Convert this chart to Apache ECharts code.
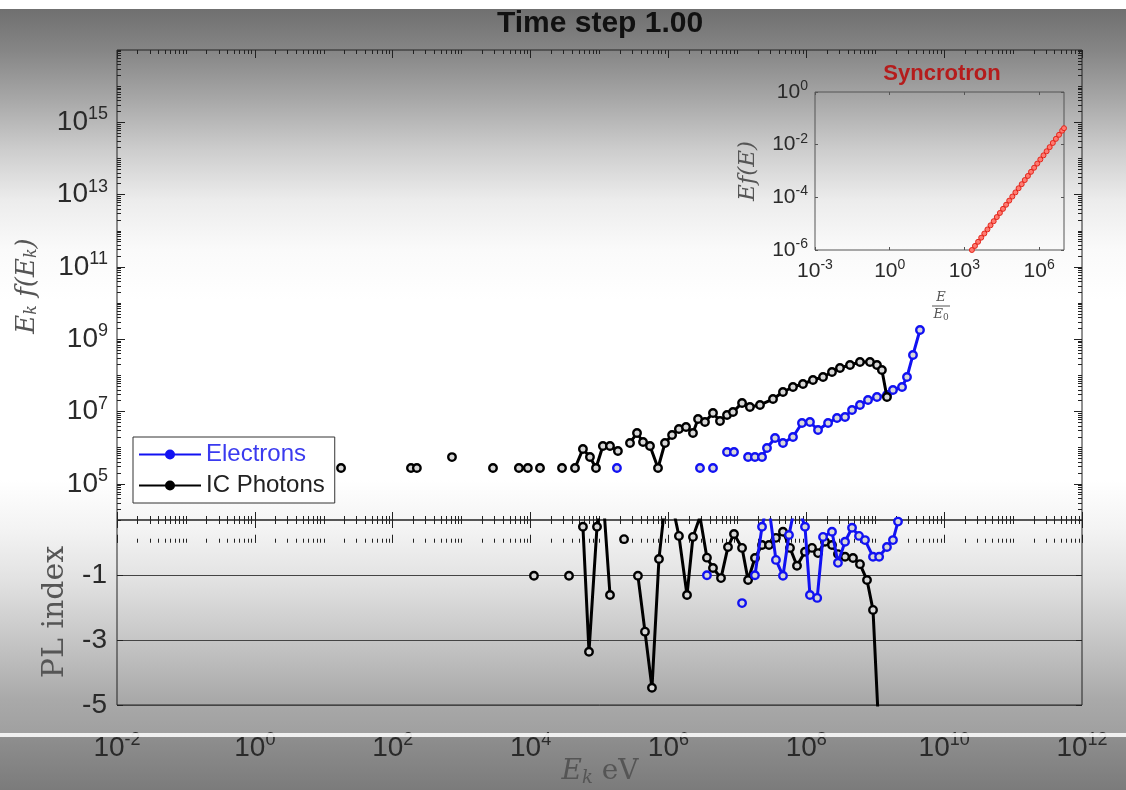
<!DOCTYPE html>
<html><head><meta charset="utf-8">
<script src="https://cdn.jsdelivr.net/npm/echarts@6/dist/echarts.min.js"></script>
<style>html,body{margin:0;padding:0;background:#fff}#c{width:1126px;height:790px}</style>
</head><body><div id="c"></div>
<script>
// ---------------- DATA ----------------
const titleText = 'Time step 1.00';
const legendNames = ['Electrons', 'IC Photons'];

// Upper panel: [E_k (eV), E_k f(E_k)] ; null y = gap in the curve
const electronsSpectrum = [
  [1.79e5, 2.75e5], [1.79e5, null],
  [2.87e6, 2.75e5], [2.87e6, null],
  [4.43e6, 2.75e5], [4.43e6, null],
  [7.08e6, 7.6e5], [8.94e6, 7.6e5], [8.94e6, null],
  [1.43e7, 5.53e5], [1.80e7, 5.53e5], [2.28e7, 5.53e5], [2.69e7, 9.8e5], [3.52e7, 1.85e6],
  [4.59e7, 1.35e6], [6.41e7, 1.98e6], [8.66e7, 4.82e6], [1.13e8, 5.14e6], [1.48e8, 3.09e6],
  [2.07e8, 4.82e6], [2.79e8, 6.63e6], [3.65e8, 7.07e6], [4.61e8, 1.10e7], [6.01e8, 1.52e7],
  [7.86e8, 2.09e7], [1.06e9, 2.53e7], [1.48e9, 2.87e7], [1.81e9, 3.95e7], [2.45e9, 4.78e7],
  [2.89e9, 9.03e7], [3.53e9, 3.67e8], [4.46e9, 1.80e9]
];
const icPhotonsSpectrum = [
  [17.8, 2.75e5], [17.8, null],
  [184, 2.75e5], [224, 2.75e5], [224, null],
  [724, 5.5e5], [724, null],
  [2850, 2.75e5], [2850, null],
  [6770, 2.75e5], [9130, 2.75e5], [9130, null],
  [1.37e4, 2.75e5], [1.37e4, null],
  [2.86e4, 2.75e5], [2.86e4, null],
  [4.41e4, 2.75e5], [5.75e4, 9.2e5], [7.27e4, 5.53e5], [8.89e4, 2.74e5], [1.12e5, 1.11e6],
  [1.42e5, 1.11e6], [1.85e5, 8.1e5], [1.85e5, null],
  [2.77e5, 1.35e6], [3.50e5, 2.55e6], [4.28e5, 1.44e6], [5.40e5, 1.11e6], [7.06e5, 2.74e5],
  [8.91e5, 1.35e6], [1.13e6, 2.24e6], [1.42e6, 3.29e6], [1.80e6, 3.74e6], [2.27e6, 2.55e6],
  [2.69e6, 6.22e6], [3.39e6, 5.14e6], [4.43e6, 9.12e6], [5.60e6, 5.48e6], [7.08e6, 8.03e6],
  [8.65e6, 9.72e6], [1.17e7, 1.73e7], [1.52e7, 1.34e7], [2.13e7, 1.52e7], [3.29e7, 2.22e7],
  [4.59e7, 3.47e7], [6.41e7, 4.78e7], [8.95e7, 5.78e7], [1.25e8, 7.46e7], [1.75e8, 9.03e7],
  [2.36e8, 1.24e8], [3.08e8, 1.60e8], [4.31e8, 1.94e8], [6.01e8, 2.35e8], [8.40e8, 2.35e8],
  [1.06e9, 1.94e8], [1.25e9, 1.41e8], [1.48e9, 2.53e7]
];

// Lower panel: [E_k (eV), PL index]
const electronsPL = [
  [3.62e6, -1.0], [3.62e6, null],
  [1.17e7, -1.86], [1.17e7, null],
  [1.80e7, -1.0], [2.28e7, 0.49], [2.78e7, 1.3], [3.63e7, -0.53], [4.59e7, -1.02],
  [5.61e7, 0.24], [7.10e7, 1.3], [9.58e7, 0.49], [1.13e8, -1.61], [1.44e8, -1.70],
  [1.75e8, 0.18], [2.36e8, 0.34], [2.88e8, -0.62], [3.65e8, 0.03], [4.61e8, 0.46],
  [5.82e8, 0.21], [7.11e8, 0.08], [9.29e8, -0.43], [1.14e9, -0.43], [1.48e9, -0.13],
  [1.81e9, 0.08], [2.14e9, 0.65], [2.70e9, 1.5]
];
const icPhotonsPL = [
  [1.12e4, -1.02], [1.12e4, null],
  [3.61e4, -1.02], [3.61e4, null],
  [5.75e4, 0.49], [7.04e4, -3.36], [9.20e4, 0.49], [1.12e5, 1.5], [1.42e5, -1.61], [1.42e5, null],
  [2.27e5, 0.11], [2.27e5, null],
  [3.61e5, -1.02], [4.57e5, -2.74], [5.77e5, -4.47], [7.29e5, -0.50], [8.91e5, 1.2],
  [1.13e6, 1.2], [1.42e6, 0.21], [1.86e6, -1.61], [2.27e6, 0.18], [2.87e6, 0.8],
  [3.62e6, -0.46], [4.43e6, -0.78], [5.79e6, -1.09], [7.31e6, -0.13], [8.94e6, 0.27],
  [1.17e7, -0.16], [1.43e7, -1.15], [1.80e7, -0.47], [2.28e7, -0.07], [2.88e7, -0.07],
  [3.63e7, 0.15], [4.59e7, 0.34], [5.80e7, -0.16], [7.33e7, -0.71], [9.58e7, -0.28],
  [1.21e8, -0.16], [1.48e8, -0.32], [1.87e8, 0.03], [2.36e8, -0.07], [2.88e8, -0.35],
  [3.65e8, -0.43], [4.76e8, -0.47], [6.01e8, -0.66], [7.60e8, -1.15], [9.29e8, -2.07],
  [1.17e9, -6.5]
];

// Inset: [E/E0, E f(E)]
const synchrotron = [
  [2.0e3, 1.0e-6], [2.66e3, 1.43e-6], [3.55e3, 2.05e-6], [4.73e3, 2.94e-6], [6.31e3, 4.22e-6],
  [8.41e3, 6.04e-6], [1.12e4, 8.66e-6], [1.50e4, 1.24e-5], [2.0e4, 1.78e-5], [2.66e4, 2.55e-5],
  [3.55e4, 3.65e-5], [4.73e4, 5.24e-5], [6.31e4, 7.50e-5], [8.41e4, 1.07e-4], [1.12e5, 1.54e-4],
  [1.50e5, 2.21e-4], [2.0e5, 3.16e-4], [2.66e5, 4.53e-4], [3.55e5, 6.49e-4], [4.73e5, 9.31e-4],
  [6.31e5, 1.33e-3], [8.41e5, 1.91e-3], [1.12e6, 2.74e-3], [1.50e6, 3.93e-3], [2.0e6, 5.62e-3],
  [2.66e6, 8.05e-3], [3.55e6, 1.16e-2], [4.73e6, 1.66e-2], [6.31e6, 2.37e-2], [8.41e6, 3.40e-2],
  [1.0e7, 4.22e-2]
];

// Tick labels
const xTickLabels = [1e-2, 1e0, 1e2, 1e4, 1e6, 1e8, 1e10, 1e12];
const yTickLabels = [1e5, 1e7, 1e9, 1e11, 1e13, 1e15];
const plTickLabels = [-5, -3, -1];
const insetXTickLabels = [1e-3, 1e0, 1e3, 1e6];
const insetYTickLabels = [1e-6, 1e-4, 1e-2, 1e0];

// ---------------- helpers ----------------
function minorDecades(lo, hi) {
  const out = [];
  for (let n = lo; n < hi; n++) for (let k = 1; k <= 9; k++) out.push(k * Math.pow(10, n));
  out.push(Math.pow(10, hi));
  return out;
}
const FONT = 'Liberation Sans, Arial, Helvetica, sans-serif';
const SERIF = 'DejaVu Serif, Liberation Serif, serif';
const LBL = '#2a2a2a';
const pow10 = v => '{b|10}{s|' + Math.round(Math.log10(v)) + '}';
const powRich = (b, s, raise) => ({
  b: { fontSize: b, fontFamily: FONT, color: LBL },
  s: { fontSize: s, fontFamily: FONT, color: LBL, padding: [0, 0, raise, 0] }
});

const X0 = 117, W = 965;
const grids = [
  { left: X0, width: W, top: 50, height: 470 },
  { left: X0, width: W, top: 520, height: 185 },
  { left: 815, width: 249, top: 92, height: 158 }
].map(g => Object.assign({ show: true, borderColor: '#222', borderWidth: 1, backgroundColor: 'transparent', containLabel: false }, g));
grids[2].borderColor = '#555';

function tickAxis(grid, pos, extent, vals, len, color, label) {
  return {
    type: 'log', logBase: 10, gridIndex: grid, position: pos, min: extent[0], max: extent[1],
    axisLine: { show: false }, splitLine: { show: false },
    axisTick: { show: true, inside: true, length: len, customValues: vals, lineStyle: { color: color, width: 1 } },
    axisLabel: label || { show: false }
  };
}

const xMinor = minorDecades(-2, 12);
const yMinor = minorDecades(4, 17);
const xExt = [1e-2, 1e12], yExt = [1e4, 1e17];

const xAxes = [
  tickAxis(0, 'bottom', xExt, xTickLabels, 8, '#222'),
  tickAxis(0, 'bottom', xExt, xMinor, 4, '#222'),
  tickAxis(0, 'top', xExt, xTickLabels, 8, '#222'),
  tickAxis(0, 'top', xExt, xMinor, 4, '#222'),
  tickAxis(1, 'bottom', xExt, xTickLabels, 8, '#222', {
    show: true, customValues: xTickLabels, formatter: pow10, margin: 26, rich: powRich(28, 18, 16)
  }),
  tickAxis(1, 'bottom', xExt, xMinor, 4, '#222'),
  tickAxis(1, 'top', xExt, xTickLabels, 8, '#222'),
  tickAxis(1, 'top', xExt, xMinor, 4, '#222'),
  tickAxis(2, 'bottom', [1e-3, 1e7], insetXTickLabels, 3, '#555', {
    show: true, customValues: insetXTickLabels, formatter: pow10, margin: 8, rich: powRich(21, 14, 12)
  }),
  tickAxis(2, 'top', [1e-3, 1e7], insetXTickLabels, 3, '#555')
];
const yAxes = [
  tickAxis(0, 'left', yExt, yTickLabels, 8, '#222', {
    show: true, customValues: yTickLabels, formatter: pow10, margin: 9, rich: powRich(28, 18, 16)
  }),
  tickAxis(0, 'left', yExt, yMinor, 4, '#222'),
  tickAxis(0, 'right', yExt, yTickLabels, 8, '#222'),
  tickAxis(0, 'right', yExt, yMinor, 4, '#222'),
  {
    type: 'value', gridIndex: 1, position: 'left', min: -5, max: 0.7, interval: 2,
    axisLine: { show: false },
    axisTick: { show: true, inside: true, length: 6, customValues: plTickLabels, lineStyle: { color: '#222' } },
    axisLabel: { show: true, customValues: plTickLabels, margin: 10, fontSize: 28, fontFamily: FONT, color: LBL },
    splitLine: { show: true, lineStyle: { color: '#444', width: 1 } }
  },
  {
    type: 'value', gridIndex: 1, position: 'right', min: -5, max: 0.7, interval: 2,
    axisLine: { show: false }, splitLine: { show: false }, axisLabel: { show: false },
    axisTick: { show: true, inside: true, length: 6, customValues: plTickLabels, lineStyle: { color: '#222' } }
  },
  tickAxis(2, 'left', [1e-6, 1e0], insetYTickLabels, 3, '#555', {
    show: true, customValues: insetYTickLabels, formatter: pow10, margin: 7, rich: powRich(21, 14, 12)
  }),
  tickAxis(2, 'right', [1e-6, 1e0], insetYTickLabels, 3, '#555')
];

const BLUE = '#1212f2', BLACK = '#000';
function lineSeries(name, data, xi, yi, color, z) {
  return {
    name: name, type: 'line', data: data, xAxisIndex: xi, yAxisIndex: yi,
    connectNulls: false, clip: true, animation: false, z: z,
    symbol: 'circle', symbolSize: 7.5, showSymbol: true,
    itemStyle: { color: '#d8d8d8', borderColor: color, borderWidth: 2.4 },
    lineStyle: { color: color, width: 3 },
    emphasis: { disabled: true }
  };
}

const option = {
  animation: false,
  grid: grids,
  xAxis: xAxes,
  yAxis: yAxes,
  legend: {
    left: 133, top: 437, orient: 'vertical', itemWidth: 62, itemHeight: 10, itemGap: 4,
    backgroundColor: '#fff', borderColor: '#333', borderWidth: 1, borderRadius: 0,
    padding: [4, 10, 4, 5],
    textStyle: { fontSize: 24, fontFamily: FONT, lineHeight: 27 },
    data: [
      { name: legendNames[0], textStyle: { color: '#3a3aef' }, itemStyle: { color: BLUE, borderColor: BLUE } },
      { name: legendNames[1], textStyle: { color: '#222' }, itemStyle: { color: BLACK, borderColor: BLACK } }
    ]
  },
  series: [
    lineSeries(legendNames[0], electronsSpectrum, 0, 0, BLUE, 3),
    lineSeries(legendNames[1], icPhotonsSpectrum, 0, 0, BLACK, 4),
    lineSeries('PL ' + legendNames[1], icPhotonsPL, 4, 4, BLACK, 3),
    lineSeries('PL ' + legendNames[0], electronsPL, 4, 4, BLUE, 4),
    {
      name: 'Syncrotron', type: 'line', data: synchrotron, xAxisIndex: 8, yAxisIndex: 6,
      animation: false, symbol: 'circle', symbolSize: 5, clip: true,
      itemStyle: { color: '#ff7a70', borderColor: '#e3261c', borderWidth: 1 },
      lineStyle: { color: '#e3261c', width: 2.5 }
    }
  ],
  graphic: [
    { type: 'rect', z: -100, silent: true, shape: { x: 0, y: 0, width: 1126, height: 790 },
      style: { fill: new echarts.graphic.LinearGradient(0, 0, 0, 1, [
        { offset: 0.000, color: '#6b6b6b' },
        { offset: 0.063, color: '#858585' },
        { offset: 0.127, color: '#a8a8a8' },
        { offset: 0.190, color: '#cdcdcd' },
        { offset: 0.253, color: '#ececec' },
        { offset: 0.316, color: '#fafafa' },
        { offset: 0.380, color: '#ffffff' },
        { offset: 0.608, color: '#ffffff' },
        { offset: 0.671, color: '#f3f3f3' },
        { offset: 0.734, color: '#e2e2e2' },
        { offset: 0.810, color: '#c6c6c6' },
        { offset: 0.886, color: '#a9a9a9' },
        { offset: 0.928, color: '#a0a0a0' },
        { offset: 0.934, color: '#8e8e8e' },
        { offset: 1.000, color: '#7b7b7b' }
      ]) } },
    { type: 'rect', z: -99, silent: true, shape: { x: 0, y: 0, width: 1126, height: 9 }, style: { fill: '#ffffff' } },
    { type: 'rect', z: 200, silent: true, shape: { x: 0, y: 733, width: 1126, height: 4 }, style: { fill: 'rgba(250,250,250,0.9)' } },
    { type: 'text', z: 100, x: 600, y: 24, style: { text: titleText, font: 'bold 30px ' + FONT, fill: '#111', align: 'center', verticalAlign: 'middle' } },
    { type: 'text', z: 100, x: 942, y: 74, style: { text: 'Syncrotron', font: 'bold 22px ' + FONT, fill: '#b51c1c', align: 'center', verticalAlign: 'middle' } },
    { type: 'text', z: 100, x: 27, y: 286, rotation: Math.PI / 2,
      style: { text: '{i|E}{k|k}{i| f(E}{k|k}{i|)}', align: 'center', verticalAlign: 'middle', fill: '#555',
        rich: { i: { fontSize: 26, fontStyle: 'italic', fontFamily: SERIF, fill: '#555' },
                k: { fontSize: 16, fontStyle: 'italic', fontFamily: SERIF, fill: '#555', padding: [10, 0, 0, 0] } } } },
    { type: 'text', z: 100, x: 55, y: 612, rotation: Math.PI / 2,
      style: { text: 'PL index', font: '30px ' + SERIF, fill: '#555', align: 'center', verticalAlign: 'middle' } },
    { type: 'text', z: 100, x: 600, y: 772,
      style: { text: '{i|E}{k|k}{r| eV}', align: 'center', verticalAlign: 'middle', fill: '#555',
        rich: { i: { fontSize: 28, fontStyle: 'italic', fontFamily: SERIF, fill: '#555' },
                k: { fontSize: 18, fontStyle: 'italic', fontFamily: SERIF, fill: '#555', padding: [12, 0, 0, 0] },
                r: { fontSize: 28, fontFamily: SERIF, fill: '#555' } } } },
    { type: 'text', z: 100, x: 748, y: 171, rotation: Math.PI / 2,
      style: { text: 'Ef(E)', font: 'italic 23px ' + SERIF, fill: '#555', align: 'center', verticalAlign: 'middle' } },
    { type: 'text', z: 100, x: 941, y: 298, style: { text: 'E', font: 'italic 13px ' + SERIF, fill: '#555', align: 'center', verticalAlign: 'middle' } },
    { type: 'line', z: 100, shape: { x1: 932, y1: 306, x2: 950, y2: 306 }, style: { stroke: '#555', lineWidth: 1 } },
    { type: 'text', z: 100, x: 941, y: 315, style: { text: '{i|E}{k|0}', align: 'center', verticalAlign: 'middle',
        rich: { i: { fontSize: 13, fontStyle: 'italic', fontFamily: SERIF, fill: '#555' },
                k: { fontSize: 9, fontFamily: SERIF, fill: '#555', padding: [5, 0, 0, 0] } } } }
  ]
};

const chart = echarts.init(document.getElementById('c'), null, { renderer: 'canvas' });
chart.setOption(option);
</script></body></html>
